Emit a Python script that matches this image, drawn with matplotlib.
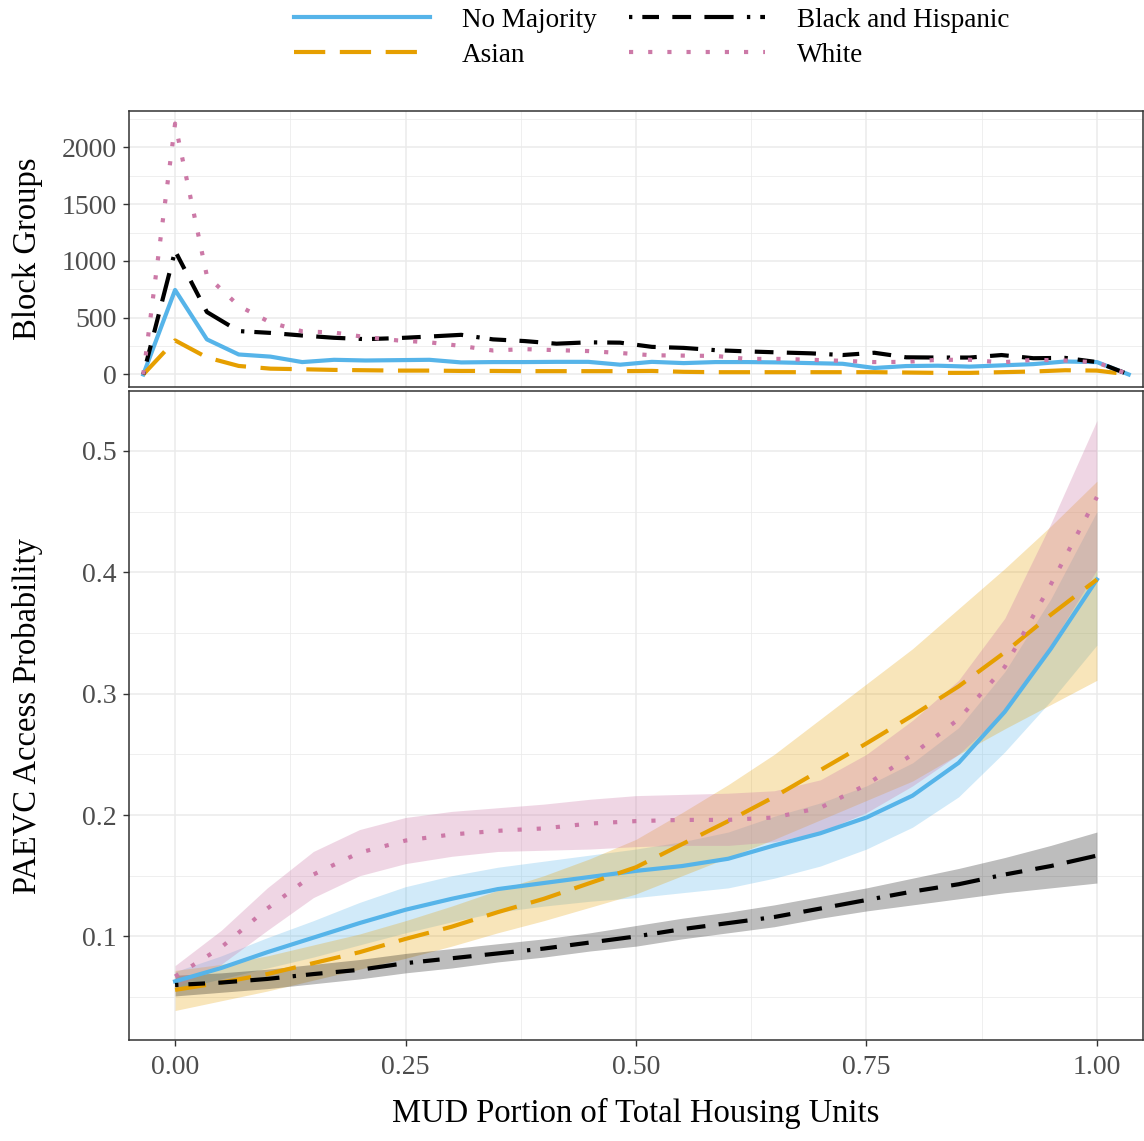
import numpy as np
import matplotlib.pyplot as plt
from matplotlib.ticker import MultipleLocator, FormatStrFormatter

plt.rcParams['font.family'] = ['Liberation Serif', 'DejaVu Serif']

groups = ["No Majority", "Asian", "Black and Hispanic", "White"]
colors = ["#56B4E9", "#E69F00", "#000000", "#CC79A7"]
fill_alpha = [0.27, 0.27, 0.26, 0.30]
styles = ["-", (0, (7.5, 3.5)), (0, (0.8, 2.4, 4, 3.2, 4.5, 3.2, 7, 3.2)), (0, (1, 3.6))]

# frequency polygon: 30 bins over [0, 1] plus an empty bin on each side
bin_width = 1 / 29
bin_centers = np.arange(-1, 31) * bin_width
counts_nomaj = [0, 744, 309, 176, 157, 109, 129, 123, 126, 129, 106, 109, 109, 111, 111, 86,
                111, 100, 109, 109, 106, 100, 94, 57, 74, 77, 69, 80, 91, 114, 109, 0]
counts_asian = [0, 300, 150, 75, 51, 46, 40, 37, 34, 34, 31, 31, 29, 29, 29, 29,
                31, 23, 20, 20, 20, 20, 20, 20, 17, 14, 14, 20, 26, 37, 34, 0]
counts_blkhisp = [0, 1088, 550, 382, 366, 343, 323, 311, 320, 334, 349, 309, 294, 271, 283, 280,
                  243, 234, 214, 203, 194, 186, 171, 191, 151, 149, 149, 171, 143, 146, 109, 0]
counts_white = [0, 2210, 868, 605, 457, 380, 369, 329, 300, 283, 251, 211, 223, 214, 206, 189,
                169, 166, 163, 137, 137, 129, 120, 109, 111, 129, 129, 106, 129, 123, 106, 0]

# smoothed access probability with confidence band
mud = [0.00, 0.05, 0.10, 0.15, 0.20, 0.25, 0.30, 0.35, 0.40, 0.45, 0.50,
       0.55, 0.60, 0.65, 0.70, 0.75, 0.80, 0.85, 0.90, 0.95, 1.00]
fit_nomaj = [0.063, 0.074, 0.087, 0.099, 0.111, 0.122, 0.131, 0.139, 0.144, 0.149, 0.154,
             0.158, 0.164, 0.175, 0.185, 0.198, 0.216, 0.243, 0.285, 0.337, 0.394]
lo_nomaj = [0.056, 0.065, 0.074, 0.083, 0.093, 0.103, 0.112, 0.120, 0.125, 0.129, 0.132,
            0.136, 0.140, 0.148, 0.158, 0.172, 0.190, 0.215, 0.252, 0.294, 0.340]
hi_nomaj = [0.071, 0.084, 0.099, 0.113, 0.128, 0.141, 0.150, 0.157, 0.162, 0.167, 0.172,
            0.178, 0.186, 0.199, 0.210, 0.224, 0.243, 0.272, 0.318, 0.378, 0.450]
fit_asian = [0.056, 0.062, 0.069, 0.078, 0.087, 0.098, 0.108, 0.120, 0.131, 0.144, 0.157,
             0.176, 0.195, 0.215, 0.237, 0.259, 0.282, 0.306, 0.334, 0.365, 0.394]
lo_asian = [0.039, 0.047, 0.055, 0.064, 0.073, 0.082, 0.092, 0.103, 0.113, 0.124, 0.135,
            0.150, 0.165, 0.180, 0.196, 0.212, 0.228, 0.250, 0.271, 0.291, 0.311]
hi_asian = [0.072, 0.077, 0.084, 0.093, 0.102, 0.113, 0.125, 0.138, 0.150, 0.164, 0.180,
            0.202, 0.225, 0.250, 0.279, 0.308, 0.337, 0.370, 0.403, 0.438, 0.475]
fit_blkhisp = [0.060, 0.062, 0.065, 0.069, 0.0725, 0.078, 0.082, 0.086, 0.090, 0.095, 0.100,
               0.106, 0.111, 0.116, 0.123, 0.130, 0.137, 0.143, 0.151, 0.158, 0.1666]
lo_blkhisp = [0.051, 0.054, 0.057, 0.061, 0.065, 0.070, 0.074, 0.079, 0.083, 0.088, 0.092,
              0.098, 0.103, 0.108, 0.115, 0.121, 0.126, 0.131, 0.136, 0.140, 0.144]
hi_blkhisp = [0.068, 0.070, 0.073, 0.077, 0.081, 0.086, 0.090, 0.094, 0.098, 0.103, 0.109,
              0.115, 0.120, 0.126, 0.133, 0.140, 0.148, 0.156, 0.165, 0.175, 0.186]
fit_white = [0.067, 0.091, 0.123, 0.151, 0.169, 0.179, 0.184, 0.187, 0.189, 0.193, 0.195,
             0.196, 0.196, 0.198, 0.206, 0.225, 0.250, 0.279, 0.322, 0.390, 0.462]
lo_white = [0.058, 0.077, 0.105, 0.132, 0.150, 0.160, 0.166, 0.170, 0.171, 0.172, 0.174,
            0.175, 0.175, 0.178, 0.186, 0.202, 0.224, 0.250, 0.285, 0.340, 0.402]
hi_white = [0.076, 0.105, 0.140, 0.170, 0.188, 0.198, 0.203, 0.206, 0.209, 0.213, 0.216,
            0.217, 0.218, 0.220, 0.229, 0.250, 0.278, 0.311, 0.362, 0.440, 0.525]

counts = [counts_nomaj, counts_asian, counts_blkhisp, counts_white]
fits = [fit_nomaj, fit_asian, fit_blkhisp, fit_white]
lows = [lo_nomaj, lo_asian, lo_blkhisp, lo_white]
highs = [hi_nomaj, hi_asian, hi_blkhisp, hi_white]

W, H = 1144, 1141
fig = plt.figure(figsize=(W / 100, H / 100), dpi=100)
left, right = 129 / W, 1143 / W
ax_top = fig.add_axes([left, 1 - 387 / H, right - left, 276 / H])
ax_bot = fig.add_axes([left, 1 - 1040 / H, right - left, 649 / H])

lw = 3.0
for c, ls, y in zip(colors, styles, counts):
    ax_top.plot(bin_centers, y, color=c, ls=ls, lw=lw)

for c, a, lo, hi in zip(colors, fill_alpha, lows, highs):
    ax_bot.fill_between(mud, lo, hi, color=c, alpha=a, lw=0)
handles = []
for g, c, ls, y in zip(groups, colors, styles, fits):
    h, = ax_bot.plot(mud, y, color=c, ls=ls, lw=lw, label=g)
    handles.append(h)

ymax = max(max(y) for y in counts)
ax_top.set_ylim(-0.05 * ymax, 1.05 * ymax)
lo_all = min(min(v) for v in lows)
hi_all = max(max(v) for v in highs)
pad = 0.05 * (hi_all - lo_all)
ax_bot.set_ylim(lo_all - pad, hi_all + pad)

for ax in (ax_top, ax_bot):
    ax.set_xlim(-0.05, 1.05)
    ax.xaxis.set_major_locator(MultipleLocator(0.25))
    ax.xaxis.set_minor_locator(MultipleLocator(0.125))
    ax.grid(which='major', color='#EBEBEB', lw=1.1)
    ax.grid(which='minor', color='#EBEBEB', lw=0.55)
    ax.set_axisbelow(True)
    for s in ax.spines.values():
        s.set_color('#333333')
        s.set_linewidth(1.1)
    ax.tick_params(which='major', length=4, width=1.0, color='#333333',
                   labelsize=20, labelcolor='#4D4D4D', pad=5)
    ax.tick_params(which='minor', length=0)

ax_top.yaxis.set_major_locator(MultipleLocator(500))
ax_top.yaxis.set_minor_locator(MultipleLocator(250))
ax_top.tick_params(axis='x', which='both', length=0, labelbottom=False)
ax_bot.yaxis.set_major_locator(MultipleLocator(0.1))
ax_bot.yaxis.set_minor_locator(MultipleLocator(0.05))
ax_bot.xaxis.set_major_formatter(FormatStrFormatter('%.2f'))
ax_bot.yaxis.set_major_formatter(FormatStrFormatter('%.1f'))
ax_bot.tick_params(axis='x', pad=7)

ax_top.set_ylabel("Block Groups", fontsize=23.5)
ax_bot.set_ylabel("PAEVC Access Probability", fontsize=23.5)
ax_top.yaxis.set_label_coords(-0.085, 0.5)
ax_bot.yaxis.set_label_coords(-0.085, 0.5)
ax_bot.set_xlabel("MUD Portion of Total Housing Units", fontsize=23.5, labelpad=13)

fig.legend(handles, groups, loc='upper center', bbox_to_anchor=(652 / W, 1.0145), ncol=2,
           frameon=False, fontsize=19.5, handlelength=5.0, handletextpad=1.2,
           columnspacing=1.2, labelspacing=0.36)

fig.savefig("out.png", dpi=100)
